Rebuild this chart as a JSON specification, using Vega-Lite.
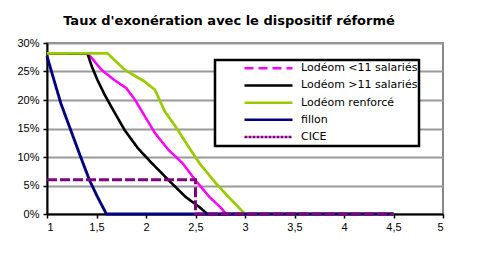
{
  "$schema": "https://vega.github.io/schema/vega-lite/v6.json",
  "width": 396,
  "height": 171,
  "autosize": "none",
  "padding": {"left": 47, "top": 43, "right": 38, "bottom": 43},
  "title": {"text": "Taux d'exonération avec le dispositif réformé", "font": "DejaVu Sans", "fontSize": 13, "fontWeight": "bold", "color": "#000000", "anchor": "middle", "dx": -16, "offset": 9},
  "data": {"values": [
    {"series": "Lodéom <11 salariés", "x": 1.0, "y": 0.282},
    {"series": "Lodéom <11 salariés", "x": 1.41, "y": 0.282},
    {"series": "Lodéom <11 salariés", "x": 1.46, "y": 0.272},
    {"series": "Lodéom <11 salariés", "x": 1.55, "y": 0.253},
    {"series": "Lodéom <11 salariés", "x": 1.68, "y": 0.235},
    {"series": "Lodéom <11 salariés", "x": 1.80, "y": 0.221},
    {"series": "Lodéom <11 salariés", "x": 1.89, "y": 0.200},
    {"series": "Lodéom <11 salariés", "x": 1.99, "y": 0.171},
    {"series": "Lodéom <11 salariés", "x": 2.09, "y": 0.142},
    {"series": "Lodéom <11 salariés", "x": 2.23, "y": 0.112},
    {"series": "Lodéom <11 salariés", "x": 2.37, "y": 0.089},
    {"series": "Lodéom <11 salariés", "x": 2.50, "y": 0.059},
    {"series": "Lodéom <11 salariés", "x": 2.64, "y": 0.030},
    {"series": "Lodéom <11 salariés", "x": 2.75, "y": 0.012},
    {"series": "Lodéom <11 salariés", "x": 2.81, "y": 0.0},
    {"series": "Lodéom <11 salariés", "x": 4.5, "y": 0.0},
    {"series": "Lodéom >11 salariés", "x": 1.0, "y": 0.282},
    {"series": "Lodéom >11 salariés", "x": 1.41, "y": 0.281},
    {"series": "Lodéom >11 salariés", "x": 1.45, "y": 0.260},
    {"series": "Lodéom >11 salariés", "x": 1.51, "y": 0.235},
    {"series": "Lodéom >11 salariés", "x": 1.58, "y": 0.210},
    {"series": "Lodéom >11 salariés", "x": 1.65, "y": 0.188},
    {"series": "Lodéom >11 salariés", "x": 1.785, "y": 0.147},
    {"series": "Lodéom >11 salariés", "x": 1.92, "y": 0.115},
    {"series": "Lodéom >11 salariés", "x": 2.06, "y": 0.089},
    {"series": "Lodéom >11 salariés", "x": 2.23, "y": 0.059},
    {"series": "Lodéom >11 salariés", "x": 2.40, "y": 0.030},
    {"series": "Lodéom >11 salariés", "x": 2.54, "y": 0.012},
    {"series": "Lodéom >11 salariés", "x": 2.62, "y": 0.0},
    {"series": "Lodéom >11 salariés", "x": 4.5, "y": 0.0},
    {"series": "Lodéom renforcé", "x": 1.0, "y": 0.282},
    {"series": "Lodéom renforcé", "x": 1.61, "y": 0.282},
    {"series": "Lodéom renforcé", "x": 1.785, "y": 0.253},
    {"series": "Lodéom renforcé", "x": 1.99, "y": 0.232},
    {"series": "Lodéom renforcé", "x": 2.09, "y": 0.218},
    {"series": "Lodéom renforcé", "x": 2.19, "y": 0.180},
    {"series": "Lodéom renforcé", "x": 2.30, "y": 0.153},
    {"series": "Lodéom renforcé", "x": 2.43, "y": 0.118},
    {"series": "Lodéom renforcé", "x": 2.54, "y": 0.089},
    {"series": "Lodéom renforcé", "x": 2.71, "y": 0.053},
    {"series": "Lodéom renforcé", "x": 2.85, "y": 0.027},
    {"series": "Lodéom renforcé", "x": 3.0, "y": 0.0},
    {"series": "Lodéom renforcé", "x": 4.5, "y": 0.0},
    {"series": "fillon", "x": 1.0, "y": 0.277},
    {"series": "fillon", "x": 1.03, "y": 0.259},
    {"series": "fillon", "x": 1.14, "y": 0.194},
    {"series": "fillon", "x": 1.24, "y": 0.147},
    {"series": "fillon", "x": 1.34, "y": 0.100},
    {"series": "fillon", "x": 1.43, "y": 0.059},
    {"series": "fillon", "x": 1.51, "y": 0.030},
    {"series": "fillon", "x": 1.60, "y": 0.0},
    {"series": "fillon", "x": 4.5, "y": 0.0},
    {"series": "CICE", "x": 1.0, "y": 0.06},
    {"series": "CICE", "x": 2.5, "y": 0.06},
    {"series": "CICE", "x": 2.5, "y": 0.0},
    {"series": "CICE", "x": 4.5, "y": 0.0}
  ]},
  "encoding": {
    "x": {"field": "x", "type": "quantitative", "scale": {"domain": [1, 5], "nice": false, "zero": false},
      "axis": {"values": [1, 1.5, 2, 2.5, 3, 3.5, 4, 4.5, 5], "labelExpr": "replace(format(datum.value, '~g'), '.', ',')", "grid": false, "title": null, "domainColor": "#000000", "domainWidth": 2, "tickColor": "#000000", "tickWidth": 1.5, "tickSize": 4, "labelPadding": 3, "labelFont": "Liberation Sans", "labelFontSize": 11, "labelColor": "#000000"}},
    "y": {"field": "y", "type": "quantitative", "scale": {"domain": [0, 0.3], "nice": false},
      "axis": {"values": [0, 0.05, 0.1, 0.15, 0.2, 0.25, 0.3], "format": ".0%", "title": null, "grid": true, "gridColor": "#999999", "gridWidth": 2, "domainColor": "#000000", "domainWidth": 2, "tickColor": "#000000", "tickWidth": 1.5, "tickSize": 4, "labelPadding": 4, "labelFont": "Liberation Sans", "labelFontSize": 11, "labelColor": "#000000", "labelOverlap": false}}
  },
  "layer": [
    {
      "mark": {"type": "line", "clip": false},
      "encoding": {
        "color": {"field": "series", "type": "nominal", "legend": null,
          "scale": {"domain": ["Lodéom <11 salariés", "Lodéom >11 salariés", "Lodéom renforcé", "fillon", "CICE"], "range": ["#FF00FF", "#000000", "#99CC00", "#000080", "#800080"]}},
        "strokeWidth": {"field": "series", "type": "nominal", "legend": null,
          "scale": {"domain": ["Lodéom <11 salariés", "Lodéom >11 salariés", "Lodéom renforcé", "fillon", "CICE"], "range": [2.5, 3, 3.5, 1.5, 1.5]}},
        "strokeDash": {"field": "series", "type": "nominal", "legend": null,
          "scale": {"domain": ["Lodéom <11 salariés", "Lodéom >11 salariés", "Lodéom renforcé", "fillon", "CICE"], "range": [[1, 0], [1, 0], [1, 0], [1, 0], [10, 3]]}}
      }
    },
    {
      "transform": [{"filter": "false"}],
      "mark": {"type": "line"},
      "encoding": {
        "color": {"field": "series", "type": "nominal", "legend": {"title": null},
          "scale": {"domain": ["Lodéom <11 salariés", "Lodéom >11 salariés", "Lodéom renforcé", "fillon", "CICE"], "range": ["#FF00FF", "#000000", "#99CC00", "#000080", "#800080"]}},
        "strokeWidth": {"field": "series", "type": "nominal", "legend": {"title": null},
          "scale": {"domain": ["Lodéom <11 salariés", "Lodéom >11 salariés", "Lodéom renforcé", "fillon", "CICE"], "range": [2.5, 2.5, 4, 2, 1]}},
        "strokeDash": {"field": "series", "type": "nominal", "legend": {"title": null},
          "scale": {"domain": ["Lodéom <11 salariés", "Lodéom >11 salariés", "Lodéom renforcé", "fillon", "CICE"], "range": [[9, 5], [1, 0], [1, 0], [1, 0], [3, 1]]}}
      }
    }
  ],
  "resolve": {"scale": {"color": "independent", "strokeWidth": "independent", "strokeDash": "independent"}},
  "config": {
    "view": {"stroke": "#888888", "strokeWidth": 2},
    "legend": {"orient": "none", "legendX": 168, "legendY": 17, "fillColor": "#FFFFFF", "strokeColor": "#000000", "strokeWidth": 2.5, "padding": 1, "symbolType": "stroke", "symbolSize": 2304, "symbolStrokeWidth": 2, "symbolOffset": 27, "labelOffset": 7, "clipHeight": 14.5, "rowPadding": 2.2, "labelFont": "DejaVu Sans", "labelFontSize": 11, "labelColor": "#000000", "labelLimit": 300}
  }
}
